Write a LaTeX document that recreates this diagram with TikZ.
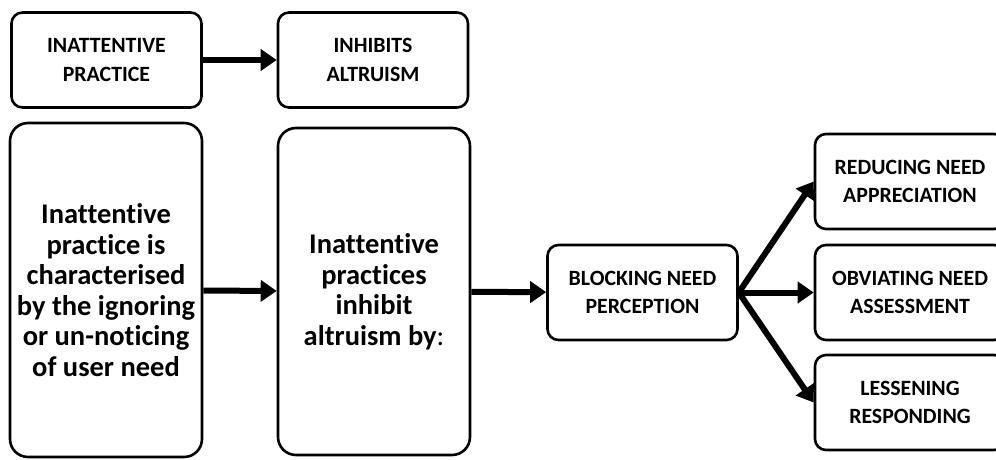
\documentclass[tikz,border=0pt]{standalone}
\usepackage{fontspec}
\setmainfont{Carlito}[Ligatures=NoCommon]
\usetikzlibrary{arrows.meta}
\begin{document}
\begin{tikzpicture}[x=1pt,y=1pt,
  box/.style={draw, line width=2.6pt, rounded corners=11pt, fill=white,
    align=center, inner sep=0pt, text=black},
  small/.style={box, minimum width=190pt, minimum height=95pt,
    font=\fontsize{21.8}{28.5}\selectfont\bfseries},
  tall/.style={box, rounded corners=18pt, minimum width=192pt,
    font=\fontsize{28.5}{30.5}\selectfont\bfseries},
  link/.style={line width=6pt, -{Triangle[length=16pt,width=21pt]}}]
\useasboundingbox (0,0) rectangle (996,459);

% top row
\node[small] (ip) at (106.5,399) {INATTENTIVE\\PRACTICE};
\node[small] (ia) at (373,399) {INHIBITS\\ALTRUISM};

% main chain
\node[tall, minimum height=334pt] (def) at (106,169) {Inattentive\\practice is\\characterised\\by the ignoring\\or un-noticing\\of user need};
\node[tall, minimum height=327pt] (how) at (374,167.5) {Inattentive\\practices\\inhibit\\altruism by{\mdseries :}};
\node[small] (block) at (642.5,166.5) {BLOCKING NEED\\PERCEPTION};

% outcomes
\node[small] (reduce) at (910,277.5) {REDUCING NEED\\APPRECIATION};
\node[small] (obviate) at (910,166.5) {OBVIATING NEED\\ASSESSMENT};
\node[small] (lessen) at (910,56.5) {LESSENING\\RESPONDING};

% connectors
\draw[link] (ip) -- (ia);
\draw[link] (def) -- (how);
\draw[link] (how) -- (block);
\draw[link] (block.east) -- (reduce.west);
\draw[link] (block.east) -- (obviate.west);
\draw[link] (block.east) -- (lessen.west);
\end{tikzpicture}
\end{document}
